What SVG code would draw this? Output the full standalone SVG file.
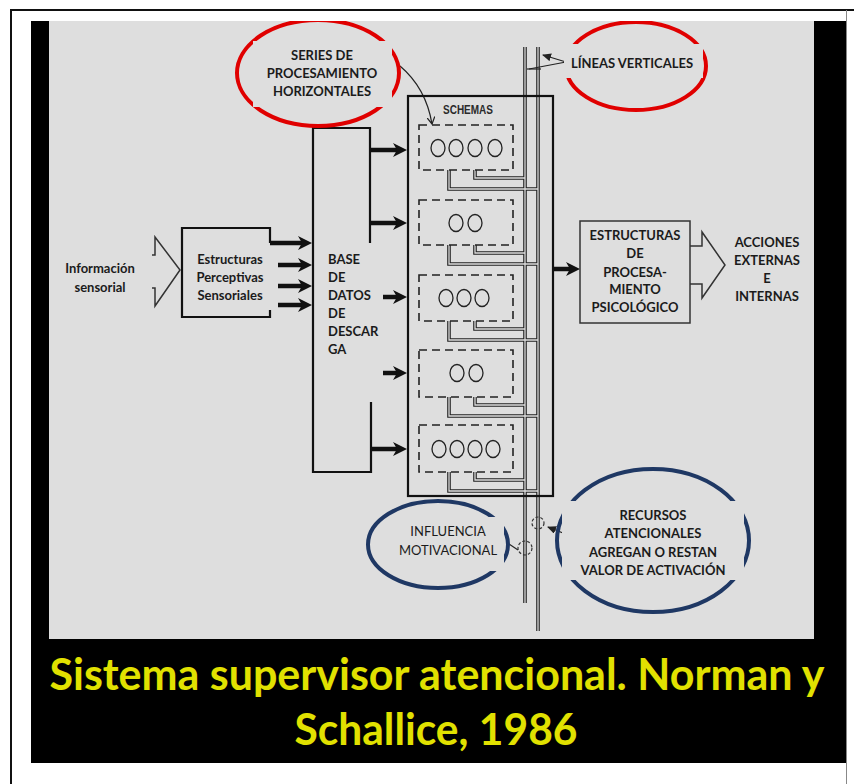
<svg xmlns="http://www.w3.org/2000/svg" xmlns:xlink="http://www.w3.org/1999/xlink" width="854" height="784" viewBox="0 0 854 784">
  <style>
    .lbl { font-family: Lato, "Liberation Sans", sans-serif; font-weight: 700; font-size: 13px; fill: #1b1b1b; text-anchor: middle; }
    .lbl-s { text-anchor: start; }
    .reg { font-weight: 400; }
    .title { font-family: Lato, "Liberation Sans", sans-serif; font-weight: 700; font-size: 44.5px; fill: #e1e100; text-anchor: middle; }
    .box { fill: none; stroke: #111; stroke-width: 2.2; }
    .thin { fill: none; stroke: #333; stroke-width: 1.5; }
    .dash { fill: none; stroke: #222; stroke-width: 1.6; stroke-dasharray: 8 5; }
    .circ { fill: none; stroke: #222; stroke-width: 1.3; }
    .shaft { fill: none; stroke: #111; stroke-width: 4.5; }
    .lead { fill: none; stroke: #222; stroke-width: 1.2; }
    .dbl-o { fill: none; stroke: #222; stroke-width: 3.6; }
    .dbl-i { fill: none; stroke: #dedede; stroke-width: 1.3; }
    .ring-red { fill: none; stroke: #e00000; stroke-width: 4; }
    .ring-blue { fill: none; stroke: #1f3864; stroke-width: 4; }
    .mask { fill: #dedede; }
    .dcirc { fill: none; stroke: #333; stroke-width: 1.2; stroke-dasharray: 3 2; }
  </style>
  <defs>
    <marker id="ah" viewBox="0 0 14 14" refX="6" refY="7" markerWidth="14" markerHeight="14" markerUnits="userSpaceOnUse" orient="auto">
      <path d="M0,0 L14,7 L0,14 L4,7 z" fill="#111"/>
    </marker>
    <marker id="sm" viewBox="0 0 9 8" refX="8" refY="4" markerWidth="9" markerHeight="8" markerUnits="userSpaceOnUse" orient="auto">
      <path d="M0,0 L9,4 L0,8 z" fill="#222"/>
    </marker>
    <marker id="open" viewBox="0 0 8 8" refX="7" refY="4" markerWidth="8" markerHeight="8" markerUnits="userSpaceOnUse" orient="auto">
      <path d="M0,0 L7,4 L0,8" fill="none" stroke="#222" stroke-width="1.2"/>
    </marker>
    <clipPath id="panel">
      <rect x="49" y="21" width="765" height="618"/>
    </clipPath>
    <!-- schema outputs and the two vertical channels, drawn as double lines -->
    <g id="wires">
      <path d="M449,170 V189 H538"/>
      <path d="M475,170 V178 H525"/>
      <path d="M449,245 V264 H538"/>
      <path d="M475,245 V253 H525"/>
      <path d="M449,321 V340 H538"/>
      <path d="M475,321 V329 H525"/>
      <path d="M449,397 V416 H538"/>
      <path d="M475,397 V405 H525"/>
      <path d="M449,472 V491 H538"/>
      <path d="M475,472 V480 H525"/>
      <path d="M525,47 V603"/>
      <path d="M538,47 V631"/>
    </g>
  </defs>

  <!-- page frame and dark panel -->
  <g id="frame">
    <rect x="0" y="0" width="854" height="784" fill="#ffffff"/>
    <path d="M11,790 V10 H860" fill="none" stroke="#111" stroke-width="2"/>
    <line x1="846.5" y1="10" x2="846.5" y2="784" stroke="#888" stroke-width="1"/>
    <rect x="31" y="21" width="815" height="742" fill="#000"/>
    <rect x="49" y="21" width="765" height="618" fill="#dedede"/>
  </g>

  <g clip-path="url(#panel)">
    <!-- connectors -->
    <g id="connectors">
      <use href="#wires" xlink:href="#wires" class="dbl-o"/>
      <use href="#wires" xlink:href="#wires" class="dbl-i"/>
      <!-- perceptual structures to the trigger database -->
      <path class="shaft" d="M270,243 H304" marker-end="url(#ah)"/>
      <path class="shaft" d="M278,265 H304" marker-end="url(#ah)"/>
      <path class="shaft" d="M278,286 H304" marker-end="url(#ah)"/>
      <path class="shaft" d="M278,305 H304" marker-end="url(#ah)"/>
      <!-- trigger database to schemas -->
      <path class="shaft" d="M370,150 H399" marker-end="url(#ah)"/>
      <path class="shaft" d="M370,223 H399" marker-end="url(#ah)"/>
      <path class="shaft" d="M383,297 H399" marker-end="url(#ah)"/>
      <path class="shaft" d="M383,373 H399" marker-end="url(#ah)"/>
      <path class="shaft" d="M371,449 H399" marker-end="url(#ah)"/>
      <!-- schemas to psychological processing -->
      <path class="shaft" d="M553,269 H572" marker-end="url(#ah)"/>
      <!-- sensory input (open arrow) -->
      <path class="thin" stroke-width="2.2" d="M152,255 H155 V237 L180,270 L155,306 V288 H152"/>
      <!-- output actions (open arrow) -->
      <path class="thin" d="M690,246 H702 V232 L725,265 L702,298 V284 H690"/>
      <!-- callout leaders -->
      <path class="lead" d="M400,66 Q426,88 432,124" marker-end="url(#open)"/>
      <path class="lead" d="M566,62 L543,55" marker-end="url(#sm)"/>
      <path class="lead" d="M566,62 L529,69"/>
      <path class="lead" d="M527,69 H541"/>
      <circle class="dcirc" cx="538" cy="523" r="6"/>
      <circle class="dcirc" cx="525" cy="548" r="7"/>
      <path class="lead" stroke-width="1.5" d="M573,537 L548,527" marker-end="url(#sm)"/>
      <path class="lead" stroke-width="1.5" d="M509,544 L518,550"/>
    </g>

    <g id="info-sensorial">
      <text class="lbl" font-size="14" x="100" y="273">Información</text>
      <text class="lbl" font-size="14" x="100" y="292">sensorial</text>
    </g>

    <g id="estructuras-perceptivas">
      <path class="box" d="M270,243 V228 H182 V317 H270 V310"/>
      <text class="lbl" x="230" y="264">Estructuras</text>
      <text class="lbl" x="230" y="282">Perceptivas</text>
      <text class="lbl" x="230" y="300">Sensoriales</text>
    </g>

    <g id="base-datos">
      <path class="box" d="M370,243 V128 H313 V472 H371 V402"/>
      <text class="lbl lbl-s" x="328" y="264">BASE</text>
      <text class="lbl lbl-s" x="328" y="282">DE</text>
      <text class="lbl lbl-s" x="328" y="300">DATOS</text>
      <text class="lbl lbl-s" x="328" y="318">DE</text>
      <text class="lbl lbl-s" x="328" y="336">DESCAR</text>
      <text class="lbl lbl-s" x="328" y="354">GA</text>
    </g>

    <g id="schemas">
      <rect class="box" x="408" y="96" width="145" height="400"/>
      <text x="468" y="114" font-family="'Liberation Sans', sans-serif" font-weight="700" font-size="12" fill="#2a2a2a" text-anchor="middle" textLength="50" lengthAdjust="spacingAndGlyphs">SCHEMAS</text>
      <g id="schema-1">
        <rect class="dash" x="419" y="125" width="94" height="45"/>
        <ellipse class="circ" cx="438" cy="148" rx="7" ry="8.5"/>
        <ellipse class="circ" cx="456" cy="148" rx="7" ry="8.5"/>
        <ellipse class="circ" cx="475" cy="148" rx="7" ry="8.5"/>
        <ellipse class="circ" cx="495" cy="148" rx="7" ry="8.5"/>
      </g>
      <g id="schema-2">
        <rect class="dash" x="419" y="200" width="94" height="45"/>
        <ellipse class="circ" cx="456" cy="223" rx="7" ry="8.5"/>
        <ellipse class="circ" cx="475" cy="223" rx="7" ry="8.5"/>
      </g>
      <g id="schema-3">
        <rect class="dash" x="419" y="275" width="94" height="46"/>
        <ellipse class="circ" cx="446" cy="298" rx="7" ry="8.5"/>
        <ellipse class="circ" cx="464" cy="298" rx="7" ry="8.5"/>
        <ellipse class="circ" cx="482" cy="298" rx="7" ry="8.5"/>
      </g>
      <g id="schema-4">
        <rect class="dash" x="419" y="350" width="94" height="47"/>
        <ellipse class="circ" cx="457" cy="373" rx="7" ry="8.5"/>
        <ellipse class="circ" cx="476" cy="373" rx="7" ry="8.5"/>
      </g>
      <g id="schema-5">
        <rect class="dash" x="419" y="425" width="94" height="47"/>
        <ellipse class="circ" cx="439" cy="449" rx="7" ry="8.5"/>
        <ellipse class="circ" cx="457" cy="449" rx="7" ry="8.5"/>
        <ellipse class="circ" cx="475" cy="449" rx="7" ry="8.5"/>
        <ellipse class="circ" cx="493" cy="449" rx="7" ry="8.5"/>
      </g>
    </g>

    <g id="proc-psicologico">
      <rect class="thin" x="580" y="221" width="110" height="102"/>
      <text class="lbl" x="635" y="240">ESTRUCTURAS</text>
      <text class="lbl" x="635" y="258">DE</text>
      <text class="lbl" x="635" y="277">PROCESA-</text>
      <text class="lbl" x="635" y="294">MIENTO</text>
      <text class="lbl" x="635" y="312">PSICOLÓGICO</text>
    </g>

    <g id="acciones">
      <text class="lbl" x="767" y="247">ACCIONES</text>
      <text class="lbl" x="767" y="265">EXTERNAS</text>
      <text class="lbl" x="767" y="283">E</text>
      <text class="lbl" x="767" y="301">INTERNAS</text>
    </g>

    <g id="series-horizontales">
      <ellipse class="ring-red" cx="318" cy="73" rx="81" ry="53"/>
      <rect class="mask" x="253" y="41" width="139" height="66"/>
      <text class="lbl" x="322" y="60">SERIES DE</text>
      <text class="lbl" x="322" y="78">PROCESAMIENTO</text>
      <text class="lbl" x="322" y="96">HORIZONTALES</text>
    </g>

    <g id="lineas-verticales">
      <ellipse class="ring-red" cx="636" cy="66" rx="70" ry="44"/>
      <rect class="mask" x="564" y="44" width="139" height="34"/>
      <text class="lbl" x="632" y="68">LÍNEAS VERTICALES</text>
    </g>

    <g id="influencia">
      <ellipse class="ring-blue" cx="438" cy="544.5" rx="70" ry="43.5"/>
      <rect class="mask" x="395" y="517" width="109" height="54"/>
      <text class="lbl reg" x="448" y="536">INFLUENCIA</text>
      <text class="lbl reg" x="448" y="555">MOTIVACIONAL</text>
    </g>

    <g id="recursos">
      <ellipse class="ring-blue" cx="653" cy="540.5" rx="96" ry="71.5"/>
      <rect class="mask" x="562" y="501" width="182" height="79"/>
      <text class="lbl" x="653" y="520">RECURSOS</text>
      <text class="lbl" x="653" y="538">ATENCIONALES</text>
      <text class="lbl" x="653" y="557">AGREGAN O RESTAN</text>
      <text class="lbl" x="653" y="575">VALOR DE ACTIVACIÓN</text>
    </g>
  </g>

  <g id="title">
    <text class="title" x="437" y="690" textLength="775" lengthAdjust="spacingAndGlyphs">Sistema supervisor atencional. Norman y</text>
    <text class="title" x="436" y="745" textLength="283" lengthAdjust="spacingAndGlyphs">Schallice, 1986</text>
  </g>
</svg>
